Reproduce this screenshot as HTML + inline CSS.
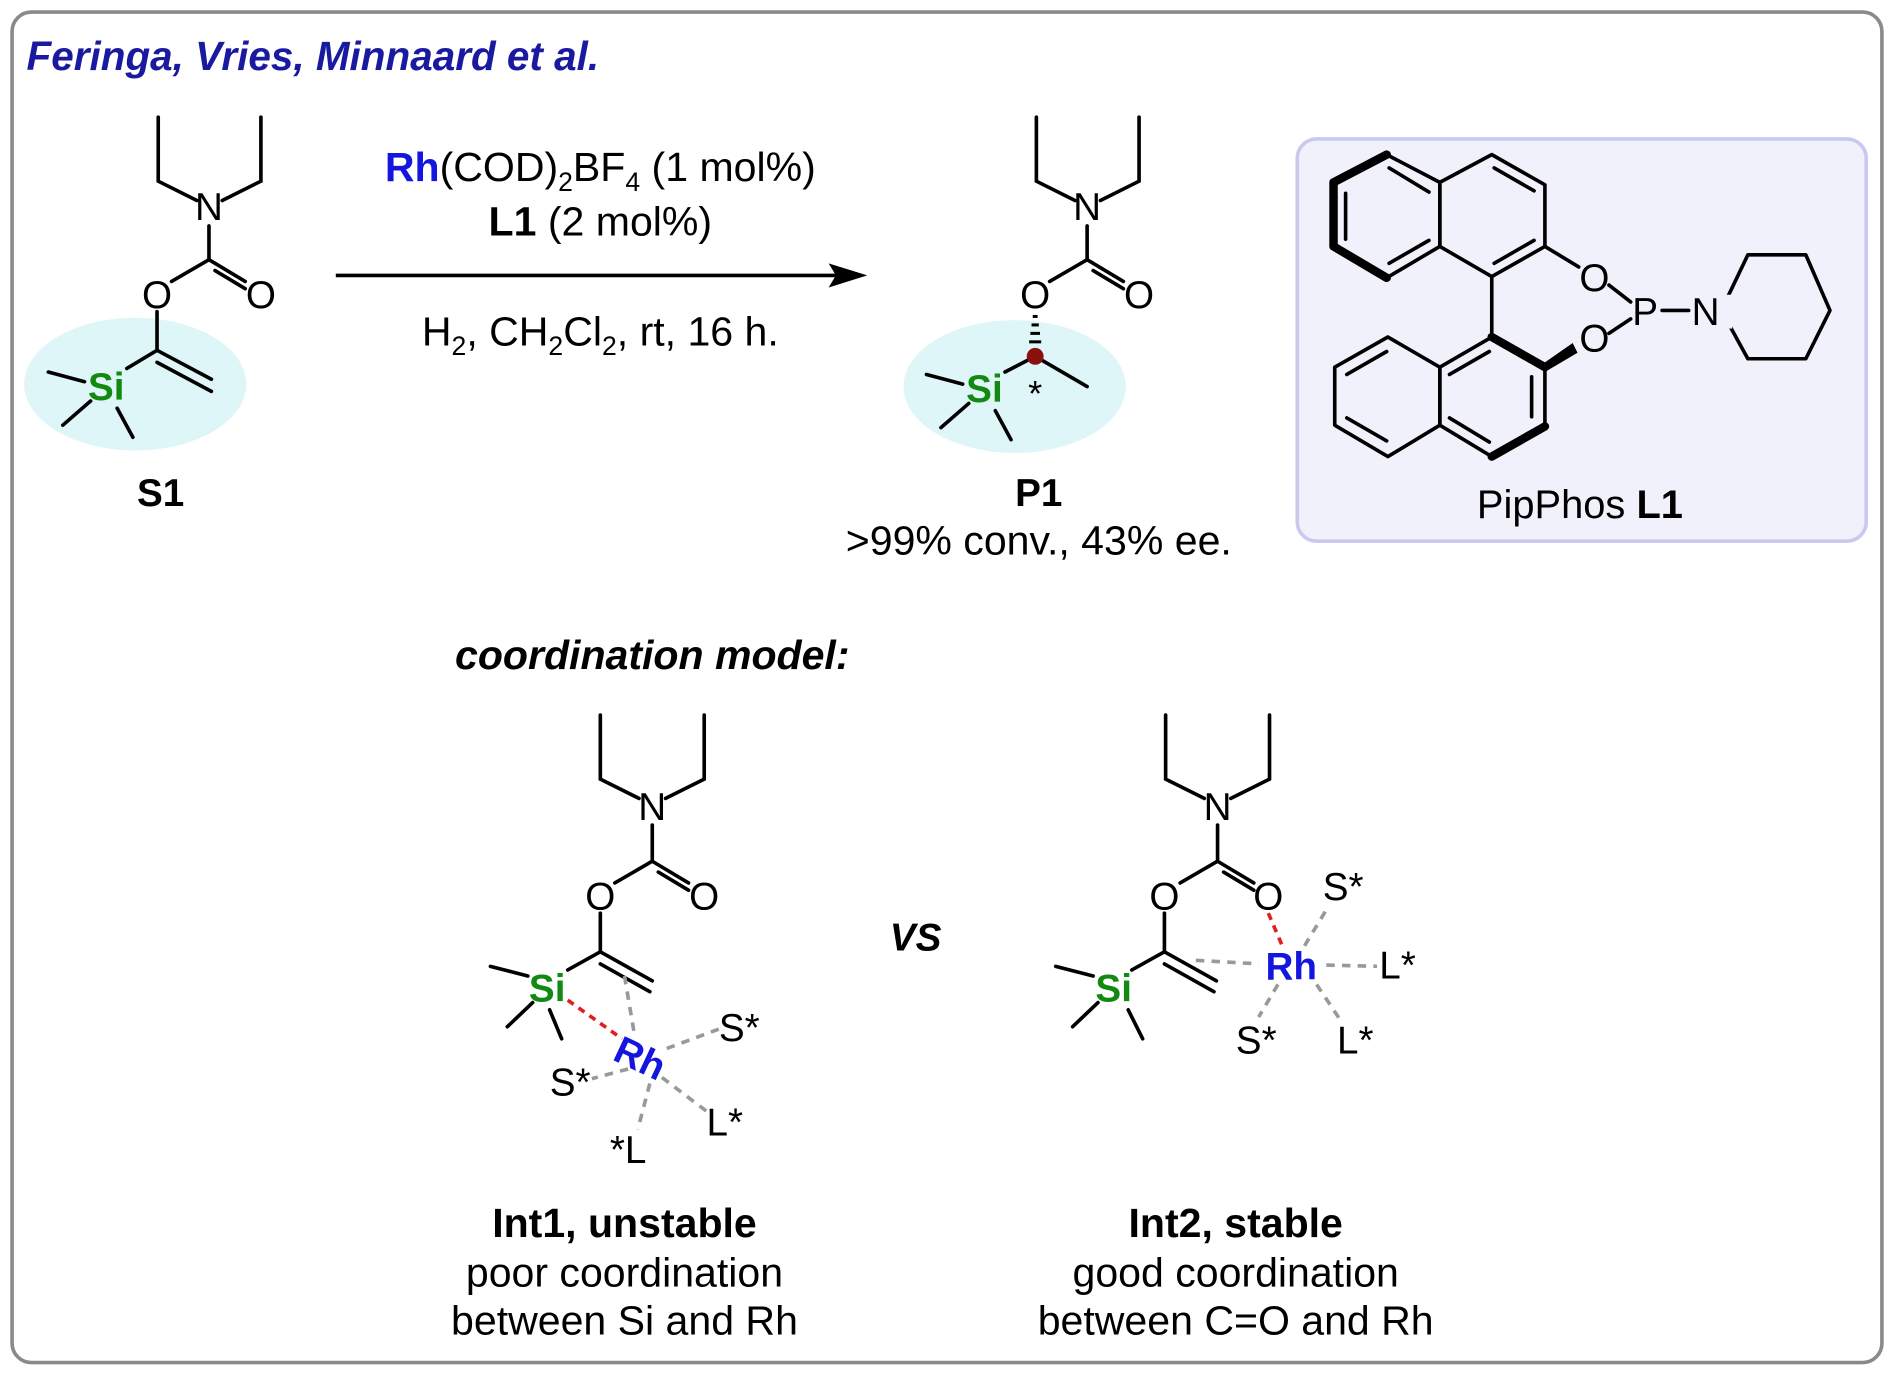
<!DOCTYPE html>
<html><head><meta charset="utf-8"><style>
html,body{margin:0;padding:0;background:#fff}
svg{display:block}
text{font-family:"Liberation Sans",Arial,sans-serif}
</style></head><body>
<svg width="1894" height="1374" viewBox="0 0 1568 1137.5" preserveAspectRatio="none" xmlns="http://www.w3.org/2000/svg">
<rect x="10" y="10" width="1548" height="1118" rx="16" fill="#fff" stroke="#8a8a8a" stroke-width="3"/>
<text x="22" y="58" font-size="33.5" font-weight="bold" font-style="italic" fill="#1a1aa0">Feringa, Vries, Minnaard et al.</text>

<!-- S1 -->
<ellipse cx="112" cy="318" rx="92" ry="55" fill="#dff6f8"/>
<g stroke="#000" stroke-width="3" fill="none" stroke-linecap="round">
<polyline points="131,97 131,150 163,166"/>
<polyline points="216,97 216,150 184,166"/>
<line x1="173" y1="187" x2="173" y2="215"/>
<line x1="173" y1="215" x2="142" y2="233"/>
<line x1="173" y1="215" x2="203" y2="233"/>
<line x1="178" y1="224" x2="203" y2="239"/>
<line x1="130" y1="258" x2="130" y2="290"/>
<line x1="130" y1="290" x2="105" y2="305"/>
<line x1="130" y1="290" x2="175" y2="314"/>
<line x1="130" y1="300" x2="175" y2="324"/>
<line x1="40" y1="308" x2="70" y2="316"/>
<line x1="52" y1="352" x2="75" y2="332"/>
<line x1="110" y1="362" x2="97" y2="338"/>
</g>
<g font-size="32" text-anchor="middle">
<text x="173" y="182">N</text><text x="130" y="255">O</text><text x="216" y="255">O</text>
<text x="88" y="331" fill="#128a12" font-weight="bold">Si</text>
<text x="133" y="419" font-weight="bold">S1</text>
</g>

<!-- arrow -->
<line x1="278" y1="228" x2="695" y2="228" stroke="#000" stroke-width="3"/>
<polygon points="718,228 686,218 692,228 686,238" fill="#000"/>
<g font-size="34" text-anchor="middle">
<text x="497" y="150"><tspan fill="#1515e0" font-weight="bold">Rh</tspan>(COD)<tspan font-size="22" dy="8">2</tspan><tspan dy="-8">BF</tspan><tspan font-size="22" dy="8">4</tspan><tspan dy="-8"> (1 mol%)</tspan></text>
<text x="497" y="195"><tspan font-weight="bold">L1</tspan> (2 mol%)</text>
<text x="497" y="286">H<tspan font-size="22" dy="8">2</tspan><tspan dy="-8">, CH</tspan><tspan font-size="22" dy="8">2</tspan><tspan dy="-8">Cl</tspan><tspan font-size="22" dy="8">2</tspan><tspan dy="-8">, rt, 16 h.</tspan></text>
</g>

<!-- P1 -->
<ellipse cx="840" cy="320" rx="92" ry="55" fill="#dff6f8"/>
<g stroke="#000" stroke-width="3" fill="none" stroke-linecap="round">
<polyline points="858,97 858,150 890,166"/>
<polyline points="943,97 943,150 911,166"/>
<line x1="900" y1="187" x2="900" y2="215"/>
<line x1="900" y1="215" x2="869" y2="233"/>
<line x1="900" y1="215" x2="930" y2="233"/>
<line x1="905" y1="224" x2="930" y2="239"/>
<line x1="857" y1="295" x2="832" y2="308"/>
<line x1="857" y1="295" x2="900" y2="320"/>
<line x1="767" y1="310" x2="797" y2="318"/>
<line x1="779" y1="354" x2="802" y2="334"/>
<line x1="837" y1="364" x2="824" y2="340"/>
</g>
<g stroke="#000" stroke-width="2.5">
<line x1="855" y1="262" x2="859" y2="262"/><line x1="854" y1="269" x2="860" y2="269"/>
<line x1="853" y1="276" x2="861" y2="276"/><line x1="852" y1="283" x2="862" y2="283"/>
</g>
<circle cx="857" cy="295" r="7" fill="#8b1010"/>
<g font-size="32" text-anchor="middle">
<text x="900" y="182">N</text><text x="857" y="255">O</text><text x="943" y="255">O</text>
<text x="815" y="333" fill="#128a12" font-weight="bold">Si</text>
<text x="857" y="336" font-size="30">*</text>
<text x="860" y="419" font-weight="bold">P1</text>
<text x="860" y="459" font-size="34">&gt;99% conv., 43% ee.</text>
</g>

<!-- PipPhos box -->
<rect x="1074" y="115" width="471" height="333" rx="16" fill="#f1f1fc" stroke="#c9c9f0" stroke-width="3"/>
<g stroke="#000" stroke-width="3" fill="none" stroke-linejoin="round" stroke-linecap="round">
<polygon points="1148,128 1192,151 1192,204 1148,230 1104,204 1104,151"/>
<polygon points="1192,151 1235,128 1279,153 1279,204 1235,229 1192,204"/>
<line x1="1150" y1="139" x2="1183" y2="159"/>
<line x1="1114" y1="160" x2="1114" y2="198"/>
<line x1="1150" y1="218" x2="1183" y2="199"/>
<line x1="1237" y1="139" x2="1270" y2="158"/>
<line x1="1237" y1="218" x2="1270" y2="199"/>
<line x1="1235" y1="229" x2="1235" y2="279"/>
<line x1="1279" y1="204" x2="1307" y2="221"/>
<polygon points="1149,279 1192,304 1192,352 1149,378 1105,352 1105,304"/>
<polygon points="1192,304 1235,279 1279,304 1279,353 1235,378 1192,352"/>
<line x1="1115" y1="310" x2="1148" y2="291"/>
<line x1="1115" y1="346" x2="1148" y2="365"/>
<line x1="1200" y1="310" x2="1233" y2="291"/>
<line x1="1268" y1="312" x2="1268" y2="345"/>
<line x1="1200" y1="346" x2="1233" y2="366"/>
<line x1="1332" y1="236" x2="1350" y2="250"/>
<line x1="1332" y1="276" x2="1350" y2="264"/>
<line x1="1376" y1="257" x2="1398" y2="257"/>
<polygon points="1425,257 1447,211 1495,211 1515,257 1495,297 1447,297"/>
</g>
<g stroke="#000" stroke-width="7" fill="none" stroke-linecap="round" stroke-linejoin="round">
<polyline points="1148,128 1104,151 1104,204 1148,230"/>
<line x1="1235" y1="279" x2="1279" y2="304"/>
<line x1="1279" y1="353" x2="1235" y2="378"/>
</g>
<polygon points="1279,300 1279,308 1306,292 1302,284" fill="#000"/>
<rect x="1414" y="244" width="20" height="28" fill="#f1f1fc"/>
<g font-size="32" text-anchor="middle">
<text x="1320" y="241">O</text><text x="1362" y="269">P</text><text x="1320" y="291">O</text><text x="1412" y="269">N</text>
<text x="1308" y="429" font-size="33">PipPhos <tspan font-weight="bold">L1</tspan></text>
</g>

<!-- coordination model -->
<text x="540" y="554" font-size="34" font-weight="bold" font-style="italic" text-anchor="middle">coordination model:</text>
<text x="758" y="787" font-size="32" font-weight="bold" font-style="italic" text-anchor="middle">VS</text>

<!-- Int1 -->
<g stroke="#000" stroke-width="3" fill="none" stroke-linecap="round">
<polyline points="497,592 497,645 529,661"/>
<polyline points="583,592 583,645 551,661"/>
<line x1="540" y1="683" x2="540" y2="713"/>
<line x1="540" y1="713" x2="509" y2="731"/>
<line x1="540" y1="713" x2="570" y2="731"/>
<line x1="545" y1="722" x2="570" y2="737"/>
<line x1="497" y1="756" x2="497" y2="788"/>
<line x1="497" y1="788" x2="470" y2="803"/>
<line x1="497" y1="788" x2="540" y2="812"/>
<line x1="497" y1="798" x2="538" y2="821"/>
<line x1="406" y1="800" x2="437" y2="808"/>
<line x1="420" y1="850" x2="441" y2="830"/>
<line x1="465" y1="860" x2="455" y2="836"/>
</g>
<g stroke="#999" stroke-width="3" stroke-dasharray="7,6" fill="none">
<line x1="517" y1="808" x2="525" y2="855"/>
<line x1="552" y1="868" x2="595" y2="852"/>
<line x1="520" y1="885" x2="490" y2="893"/>
<line x1="548" y1="892" x2="585" y2="920"/>
<line x1="538" y1="897" x2="528" y2="935"/>
</g>
<line x1="470" y1="828" x2="515" y2="860" stroke="#e02020" stroke-width="3" stroke-dasharray="6,5"/>
<g font-size="32" text-anchor="middle">
<text x="540" y="679">N</text><text x="497" y="753">O</text><text x="583" y="753">O</text>
<text x="453" y="829" fill="#128a12" font-weight="bold">Si</text>
<text x="530" y="887" fill="#1515e0" font-weight="bold" transform="rotate(25 530 876)">Rh</text>
<text x="612" y="862">S*</text><text x="472" y="907">S*</text><text x="600" y="940">L*</text><text x="520" y="963">*L</text>
</g>

<!-- Int2 -->
<g stroke="#000" stroke-width="3" fill="none" stroke-linecap="round">
<polyline points="965,592 965,645 997,661"/>
<polyline points="1051,592 1051,645 1019,661"/>
<line x1="1008" y1="683" x2="1008" y2="713"/>
<line x1="1008" y1="713" x2="977" y2="731"/>
<line x1="1008" y1="713" x2="1038" y2="731"/>
<line x1="1013" y1="722" x2="1038" y2="737"/>
<line x1="964" y1="756" x2="964" y2="788"/>
<line x1="964" y1="788" x2="937" y2="803"/>
<line x1="964" y1="788" x2="1007" y2="812"/>
<line x1="964" y1="798" x2="1005" y2="821"/>
<line x1="874" y1="800" x2="905" y2="808"/>
<line x1="888" y1="850" x2="909" y2="830"/>
<line x1="946" y1="860" x2="934" y2="836"/>
</g>
<g stroke="#999" stroke-width="3" stroke-dasharray="7,6" fill="none">
<line x1="990" y1="795" x2="1042" y2="798"/>
<line x1="1080" y1="783" x2="1100" y2="750"/>
<line x1="1098" y1="799" x2="1140" y2="800"/>
<line x1="1058" y1="815" x2="1042" y2="842"/>
<line x1="1090" y1="815" x2="1110" y2="845"/>
</g>
<line x1="1050" y1="756" x2="1062" y2="784" stroke="#e02020" stroke-width="3" stroke-dasharray="6,5"/>
<g font-size="32" text-anchor="middle">
<text x="1008" y="679">N</text><text x="964" y="753">O</text><text x="1050" y="753">O</text>
<text x="922" y="829" fill="#128a12" font-weight="bold">Si</text>
<text x="1069" y="811" fill="#1515e0" font-weight="bold">Rh</text>
<text x="1112" y="745">S*</text><text x="1157" y="810">L*</text><text x="1040" y="872">S*</text><text x="1122" y="872">L*</text>
</g>

<!-- captions -->
<g font-size="34" text-anchor="middle">
<text x="517" y="1024" font-weight="bold">Int1, unstable</text>
<text x="517" y="1065">poor coordination</text>
<text x="517" y="1105">between Si and Rh</text>
<text x="1023" y="1024" font-weight="bold">Int2, stable</text>
<text x="1023" y="1065">good coordination</text>
<text x="1023" y="1105">between C=O and Rh</text>
</g>
</svg>
</body></html>
